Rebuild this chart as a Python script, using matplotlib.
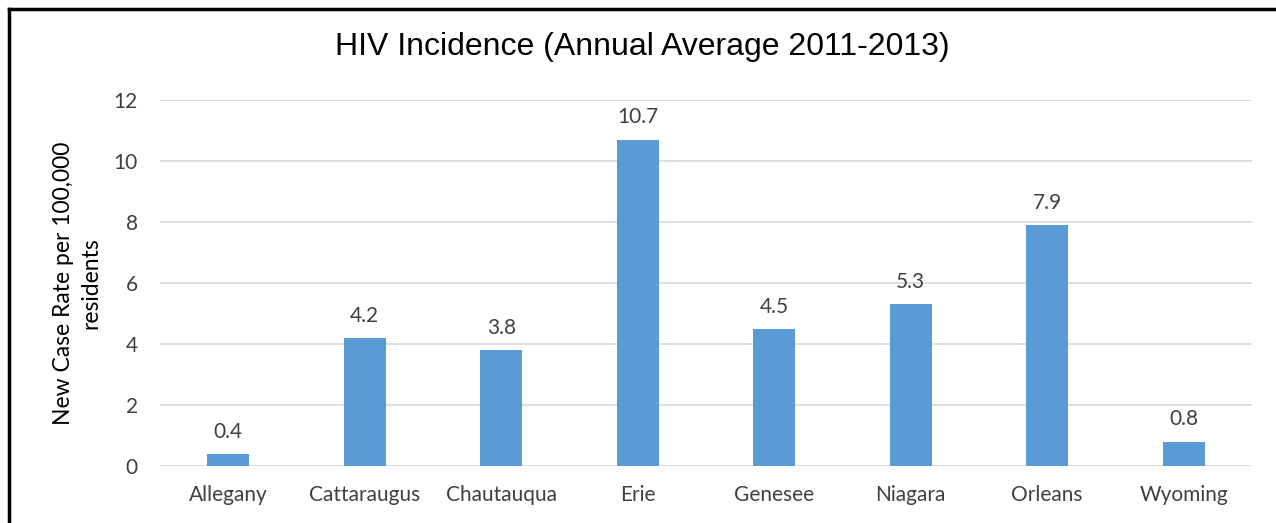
import matplotlib
matplotlib.use("Agg")
import matplotlib.pyplot as plt
from matplotlib.lines import Line2D

plt.rcParams['font.family'] = ['Lato', 'DejaVu Sans']

counties = ["Allegany", "Cattaraugus", "Chautauqua", "Erie", "Genesee", "Niagara", "Orleans", "Wyoming"]
rates = [0.4, 4.2, 3.8, 10.7, 4.5, 5.3, 7.9, 0.8]
yticks = [0, 2, 4, 6, 8, 10, 12]

txt = "#404040"
bar_col = "#5B9BD5"

fig = plt.figure(figsize=(12.76, 5.23), dpi=100)
ax = fig.add_axes([160 / 1276, 57 / 523, 1092 / 1276, 366 / 523])

x = range(len(counties))
ax.bar(x, rates, width=0.31, color=bar_col, zorder=3)
for xi, v in zip(x, rates):
    ax.text(xi, v + 0.4, "%.1f" % v, ha="center", va="bottom", fontsize=15, color=txt)

ax.set_xlim(-0.5, len(counties) - 0.5)
ax.set_ylim(0, 12)
ax.set_yticks(yticks)
ax.set_yticklabels([str(t) for t in yticks], fontsize=15, color=txt)
ax.set_xticks(list(x))
ax.set_xticklabels(counties, fontsize=15, color=txt)
ax.tick_params(axis="both", length=0)
ax.tick_params(axis="y", pad=16)
ax.tick_params(axis="x", pad=14)
ax.grid(axis="y", color="#D9D9D9", linewidth=1.2, zorder=0)
for s in ax.spines.values():
    s.set_visible(False)

ax.set_ylabel("New Case Rate per 100,000\nresidents", fontsize=16.5, color="black",
              labelpad=9, linespacing=1.35)
fig.text(642 / 1276, 1 - 47 / 523, "HIV Incidence (Annual Average 2011-2013)",
         ha="center", va="center", fontsize=23, color="black", family="Liberation Sans")

# outer frame (only left and top edges visible in the crop)
fig.add_artist(Line2D([9 / 1276, 9 / 1276], [0, 1 - 9 / 523], transform=fig.transFigure,
                      color="black", linewidth=2.5))
fig.add_artist(Line2D([9 / 1276, 1], [1 - 9 / 523, 1 - 9 / 523], transform=fig.transFigure,
                      color="black", linewidth=2.5))

fig.savefig("out.png", dpi=100)
